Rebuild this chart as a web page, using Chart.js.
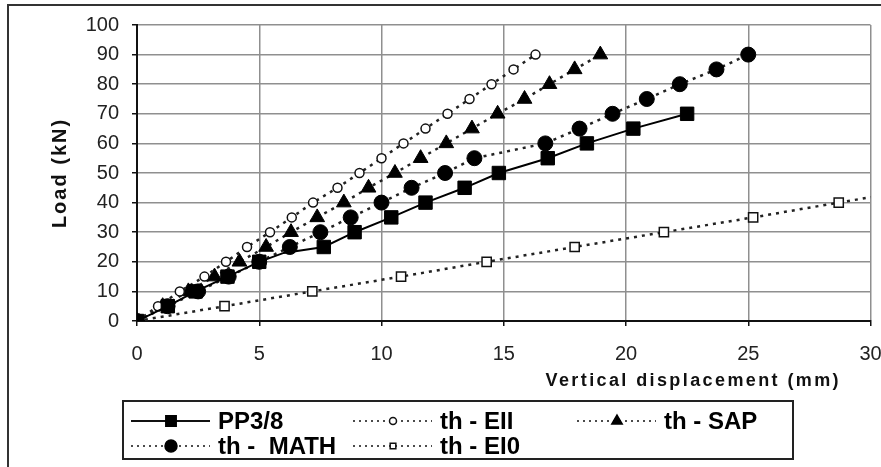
<!DOCTYPE html>
<html>
<head>
<meta charset="utf-8">
<script src="https://cdn.jsdelivr.net/npm/chart.js@4/dist/chart.umd.min.js"></script>
<style>
    body { margin: 0; background: #fff; }
</style>
</head>
<body>
<canvas id="myChart" width="881" height="467"></canvas>
<script>
// Données : déplacement vertical (mm) et charge (kN)
const ppX   = [0, 1.26, 2.4, 3.7, 5.0, 6.0, 7.64, 8.9, 10.4, 11.8, 13.4, 14.8, 16.8, 18.4, 20.3, 22.5];
const ppY   = [0, 5, 10, 15, 20, 23, 25, 30, 35, 40, 45, 50, 55, 60, 65, 70];

const eiiX  = [0, 0.86, 1.75, 2.76, 3.64, 4.5, 5.44, 6.33, 7.2, 8.2, 9.1, 10.0, 10.9, 11.8, 12.7, 13.6, 14.5, 15.4, 16.3];
const eiiY  = [0, 5, 10, 15, 20, 25, 30, 35, 40, 45, 50, 55, 60, 65, 70, 75, 80, 85, 90];

const sapX  = [0, 1.05, 2.1, 3.17, 4.19, 5.28, 6.3, 7.37, 8.46, 9.47, 10.55, 11.6, 12.65, 13.7, 14.75, 15.85, 16.87, 17.9, 18.95];
const sapY  = [0, 5, 10, 15, 20, 25, 30, 35, 40, 45, 50, 55, 60, 65, 70, 75, 80, 85, 90];

const mathX = [0, 1.25, 2.5, 3.75, 5.0, 6.25, 7.5, 8.74, 10.0, 11.23, 12.6, 13.8, 16.7, 18.1, 19.45, 20.85, 22.2, 23.7, 25.0];
const mathY = [0, 5, 10, 15, 20, 25, 30, 35, 40, 45, 50, 55, 60, 65, 70, 75, 80, 85, 90];

const ei0X  = [0, 3.58, 7.17, 10.8, 14.3, 17.9, 21.55, 25.2, 28.7, 32.3];
const ei0Y  = [0, 5, 10, 15, 20, 25, 30, 35, 40, 45];

const xTicks = [0, 5, 10, 15, 20, 25, 30];
const yTicks = [0, 10, 20, 30, 40, 50, 60, 70, 80, 90, 100];

const seriesLabels = ["PP3/8", "th - EII", "th - SAP", "th -  MATH", "th - EI0"];
const xTitle = "Vertical displacement (mm)";
const yTitle = "Load (kN)";

const police = "'Liberation Sans', Arial, sans-serif";

function toPoints(xs, ys) {
    return xs.map((x, i) => ({ x: x, y: ys[i] }));
}

const datasets = [
    {
        label: seriesLabels[0],
        data: toPoints(ppX, ppY),
        borderColor: "#000",
        borderWidth: 2,
        pointStyle: "rect",
        // marqueurs seulement tous les 5 kN
        pointRadius: c => (c.raw && c.raw.y % 5 === 0 ? 9.5 : 0),
        pointBackgroundColor: "#000",
        pointBorderColor: "#000",
        pointBorderWidth: 1
    },
    {
        label: seriesLabels[1],
        data: toPoints(eiiX, eiiY),
        borderColor: "#222",
        borderWidth: 2.5,
        borderDash: [3, 5],
        pointStyle: "circle",
        pointRadius: 4.5,
        pointBackgroundColor: "#fff",
        pointBorderColor: "#111",
        pointBorderWidth: 1.5
    },
    {
        label: seriesLabels[2],
        data: toPoints(sapX, sapY),
        borderColor: "#222",
        borderWidth: 2.5,
        borderDash: [3, 5],
        pointStyle: "triangle",
        pointRadius: 8.5,
        pointBackgroundColor: "#000",
        pointBorderColor: "#000",
        pointBorderWidth: 1
    },
    {
        label: seriesLabels[3],
        data: toPoints(mathX, mathY),
        borderColor: "#222",
        borderWidth: 2.5,
        borderDash: [3, 5],
        pointStyle: "circle",
        pointRadius: 7.5,
        pointBackgroundColor: "#000",
        pointBorderColor: "#000",
        pointBorderWidth: 1
    },
    {
        label: seriesLabels[4],
        data: toPoints(ei0X, ei0Y),
        borderColor: "#222",
        borderWidth: 2.5,
        borderDash: [3, 5],
        pointStyle: "rect",
        pointRadius: 6.5,
        pointBackgroundColor: "#fff",
        pointBorderColor: "#111",
        pointBorderWidth: 1.5
    }
];

// Cadre, titres des axes et légende dessinés à la main
const decor = {
    id: "decor",
    afterDraw(chart) {
        const c = chart.ctx;
        c.save();

        // cadre extérieur (seuls les bords gauche et haut sont visibles)
        c.strokeStyle = "#333";
        c.lineWidth = 2;
        c.beginPath();
        c.moveTo(8, 467);
        c.lineTo(8, 5);
        c.lineTo(881, 5);
        c.stroke();

        // titre axe X
        c.fillStyle = "#111";
        c.font = "bold 18px " + police;
        c.letterSpacing = "2.4px";
        c.textAlign = "right";
        c.textBaseline = "middle";
        c.fillText(xTitle, 841, 381);

        // titre axe Y
        c.save();
        c.translate(60, 173);
        c.rotate(-Math.PI / 2);
        c.font = "bold 20px " + police;
        c.letterSpacing = "2px";
        c.textAlign = "center";
        c.fillText(yTitle, 0, 0);
        c.restore();
        c.letterSpacing = "0px";

        // légende
        c.lineWidth = 2;
        c.strokeStyle = "#222";
        c.strokeRect(123, 401, 670, 58);

        const cols = [131, 353, 577];
        const rows = [421, 446];
        const legendRadius = [7, 3.5, 6, 6, 4];
        const place = [[0, 0], [1, 0], [2, 0], [0, 1], [1, 1]];

        chart.data.datasets.forEach((ds, i) => {
            const x0 = cols[place[i][0]];
            const y0 = rows[place[i][1]];
            c.strokeStyle = "#111";
            c.lineWidth = i === 0 ? 2 : 1.5;
            c.setLineDash(i === 0 ? [] : [2, 4]);
            c.beginPath();
            c.moveTo(x0, y0);
            c.lineTo(x0 + 79, y0);
            c.stroke();
            c.setLineDash([]);

            c.fillStyle = ds.pointBackgroundColor;
            c.strokeStyle = ds.pointBorderColor;
            Chart.helpers.drawPoint(c, {
                pointStyle: ds.pointStyle,
                radius: legendRadius[i],
                borderWidth: ds.pointBorderWidth,
                rotation: 0
            }, x0 + 40, y0);

            c.fillStyle = "#000";
            c.font = "bold 24px " + police;
            c.textAlign = "left";
            c.textBaseline = "middle";
            c.fillText(ds.label, x0 + 87, y0 + 1);
        });

        c.restore();
    }
};

const ctx = document.getElementById("myChart").getContext("2d");
const myChart = new Chart(ctx, {
    type: "line",
    data: { datasets: datasets },
    plugins: [decor],
    options: {
        responsive: false,
        animation: false,
        layout: { padding: { left: 0, right: 7, top: 25, bottom: 0 } },
        plugins: {
            legend: { display: false },
            tooltip: { enabled: false }
        },
        scales: {
            x: {
                type: "linear",
                min: 0,
                max: 30,
                afterBuildTicks: s => { s.ticks = xTicks.map(v => ({ value: v })); },
                afterFit: s => { s.height = 146; s.paddingLeft = 0; s.paddingRight = 0; },
                grid: { color: "#8f8f8f", lineWidth: 1.5, tickColor: "#111", tickLength: 5 },
                border: { color: "#111", width: 2 },
                ticks: { font: { family: police, size: 20 }, color: "#222", padding: 16, maxRotation: 0 }
            },
            y: {
                type: "linear",
                min: 0,
                max: 100,
                afterBuildTicks: s => { s.ticks = yTicks.map(v => ({ value: v })); },
                afterFit: s => { s.width = 137; s.paddingTop = 0; s.paddingBottom = 0; },
                grid: { color: "#8f8f8f", lineWidth: 1.5, tickColor: "#111", tickLength: 5 },
                border: { color: "#111", width: 2 },
                ticks: { font: { family: police, size: 20 }, color: "#222", padding: 13 }
            }
        }
    }
});
</script>
</body>
</html>
